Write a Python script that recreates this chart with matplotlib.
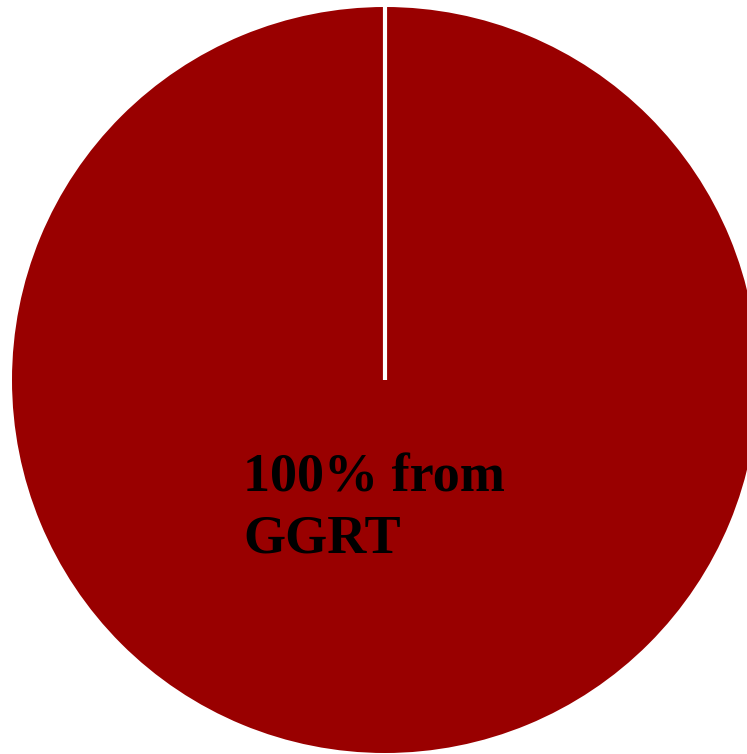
import numpy as np
import matplotlib.pyplot as plt

# Revenue source share
sources = ['GGRT']
shares = [100]
label_text = '100% from\nGGRT'
start_angle = 90

fig = plt.figure(figsize=(7.47, 7.54), dpi=100)
ax = fig.add_axes([0, 0, 1, 1])

wedges, _ = ax.pie(shares, colors=['#990000'], startangle=start_angle,
                   counterclock=False, radius=1.0, center=(0, 0),
                   wedgeprops=dict(linewidth=0))

# a single full wedge has no radial edge, so draw the seam at the start angle
theta = np.deg2rad(start_angle)
r = wedges[0].r
ax.plot([0, r * np.cos(theta)], [0, r * np.sin(theta)], color='white',
        linewidth=3, solid_capstyle='butt')

ax.text(-0.38, -0.462, label_text, ha='left', va='baseline',
        fontsize=39, fontweight='bold', family='Liberation Serif',
        color='black', linespacing=1.28)

ax.set_xlim(-385 / 373, (747 - 385) / 373)
ax.set_ylim((380 - 754) / 373, 380 / 373)
ax.set_aspect('auto')
ax.axis('off')

fig.savefig('out.png', dpi=100, facecolor='white')
